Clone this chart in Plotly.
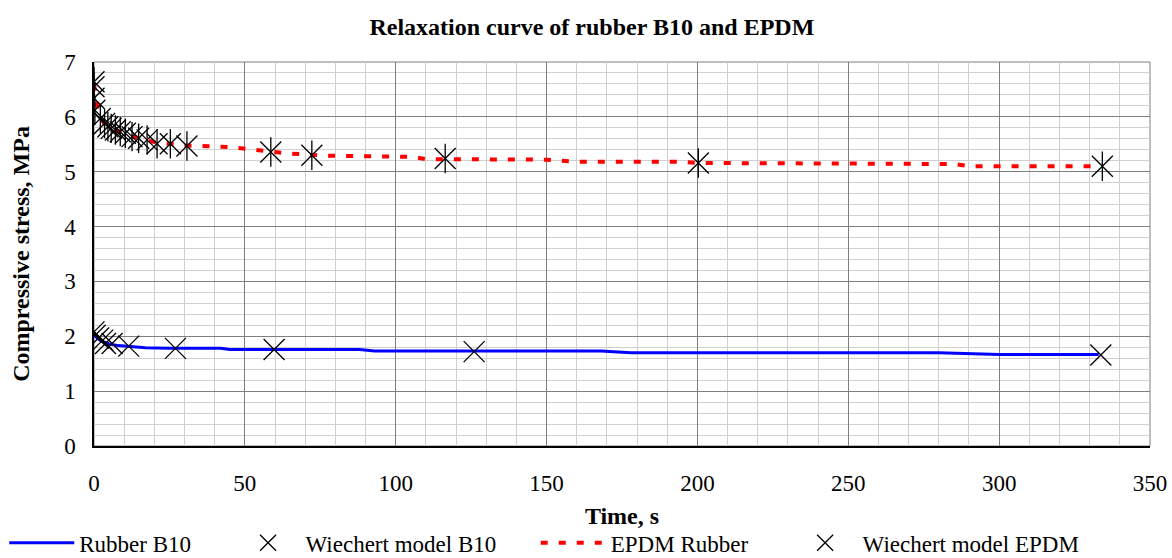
import plotly.graph_objects as go

# Rubber B10 measured curve
b10_time = [0, 1, 2, 3, 5, 8, 12, 17, 25, 42, 45, 88, 93, 168, 178, 280, 300, 333]
b10_stress = [2.02, 1.97, 1.93, 1.90, 1.86, 1.83, 1.81, 1.79, 1.78, 1.78, 1.76, 1.76, 1.73, 1.73, 1.70, 1.70, 1.67, 1.67]

# Wiechert model B10
wb10_time = [0, 0.4, 1.5, 2.9, 3.8, 6, 11.5, 27, 59.7, 126, 333.7]
wb10_stress = [2.08, 2.02, 1.97, 1.93, 1.87, 1.87, 1.82, 1.78, 1.76, 1.72, 1.66]

# EPDM measured curve
epdm_time = [0, 0.5, 1, 2, 3, 4, 6, 8, 10, 13, 16, 20, 25, 30, 45, 55, 60, 65, 72, 78, 94, 106, 110,
             150, 160, 195, 200, 250, 285, 290, 334]
epdm_stress = [6.60, 6.40, 6.20, 6.00, 5.90, 5.83, 5.77, 5.73, 5.69, 5.64, 5.60, 5.54, 5.51, 5.48, 5.45,
               5.38, 5.36, 5.33, 5.30, 5.29, 5.28, 5.27, 5.23, 5.22, 5.18, 5.18, 5.16, 5.15, 5.14, 5.10, 5.10]

# Wiechert model EPDM
wepdm_time = [0, 0, 0, 0.3, 2.1, 3.5, 4.6, 5.7, 7.1, 8.7, 10.4, 12.6, 14.8, 17.6, 20.9, 25.3, 30.8,
              58.6, 72.2, 116.4, 200.3, 334.2]
wepdm_stress = [6.64, 6.55, 6.34, 6.12, 5.97, 5.88, 5.82, 5.79, 5.76, 5.73, 5.70, 5.64, 5.61, 5.58,
                5.51, 5.51, 5.47, 5.36, 5.30, 5.24, 5.16, 5.10]

series_names = ["Rubber B10", "Wiechert model B10", "EPDM Rubber", "Wiechert model EPDM"]

FONT = "Liberation Serif"
PAD = "\u00a0" * 6  # spacing between legend entries

fig = go.Figure()
fig.add_trace(go.Scatter(x=b10_time, y=b10_stress, mode="lines", name=series_names[0] + PAD,
                         line=dict(color="#0000ff", width=3)))
fig.add_trace(go.Scatter(x=wb10_time, y=wb10_stress, mode="markers", name=series_names[1] + PAD,
                         marker=dict(symbol="x-thin-open", size=21, color="black",
                                     line=dict(color="black", width=1.3))))
fig.add_trace(go.Scatter(x=epdm_time, y=epdm_stress, mode="lines", name=series_names[2] + PAD,
                         line=dict(color="#ff0000", width=4, dash="7px,11px")))
fig.add_trace(go.Scatter(x=wepdm_time, y=wepdm_stress, mode="markers", name=series_names[3],
                         marker=dict(symbol="x-thin-open", size=21, color="black",
                                     line=dict(color="black", width=1.3))))
fig.add_trace(go.Scatter(x=wepdm_time, y=wepdm_stress, mode="markers", showlegend=False,
                         hoverinfo="skip",
                         marker=dict(symbol="line-ns-open", size=21, color="black",
                                     line=dict(color="black", width=1.3))))

fig.update_layout(
    width=1172, height=558,
    margin=dict(l=94, r=22, t=62, b=112, autoexpand=False),
    paper_bgcolor="white", plot_bgcolor="white",
    font=dict(family=FONT, size=23, color="black"),
    title=dict(text="<b>Relaxation curve of rubber B10 and EPDM</b>", x=0.505, xanchor="center",
               xref="container", y=1 - 27 / 558, yref="container", yanchor="middle",
               font=dict(family=FONT, size=24, color="black")),
    showlegend=True,
    legend=dict(orientation="h", x=-0.085, xanchor="left", y=-0.252, yanchor="middle",
                font=dict(family=FONT, size=23, color="black"), itemwidth=65,
                bgcolor="rgba(0,0,0,0)"),
)

fig.update_xaxes(range=[0, 350], tick0=0, dtick=50, showline=True, linecolor="black", linewidth=1.5,
                 showgrid=True, gridcolor="#7f7f7f", gridwidth=1, zeroline=False,
                 ticks="outside", ticklen=16, tickcolor="rgba(0,0,0,0)",
                 tickfont=dict(family=FONT, size=23),
                 minor=dict(dtick=10, showgrid=True, gridcolor="#d0d0d0", gridwidth=1),
                 title=dict(text="<b>Time, s</b>", font=dict(family=FONT, size=24), standoff=12))
fig.update_yaxes(range=[0, 7], tick0=0, dtick=1, showline=True, linecolor="black", linewidth=1.5,
                 showgrid=True, gridcolor="#7f7f7f", gridwidth=1, zeroline=False,
                 ticks="outside", ticklen=12, tickcolor="rgba(0,0,0,0)",
                 tickfont=dict(family=FONT, size=23),
                 minor=dict(dtick=0.2, showgrid=True, gridcolor="#d0d0d0", gridwidth=1),
                 title=dict(text="<b>Compressive stress, MPa</b>", font=dict(family=FONT, size=24),
                            standoff=28))

fig.add_shape(type="rect", xref="paper", yref="paper", x0=0, y0=0, x1=1, y1=1,
              line=dict(color="#7f7f7f", width=1), layer="below")

fig.write_html("out.html")
